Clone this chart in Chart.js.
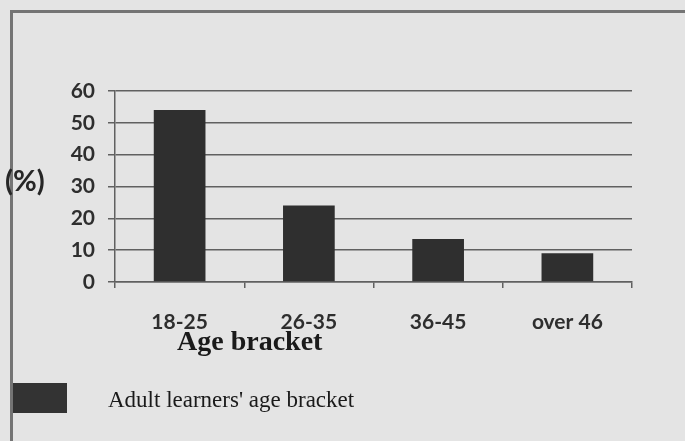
<!DOCTYPE html>
<html>
<head>
<meta charset="utf-8">
<script src="https://cdn.jsdelivr.net/npm/chart.js@4"></script>
<style>
  html, body { margin: 0; padding: 0; background: #e4e4e4; }
  body { width: 685px; height: 441px; position: relative; overflow: hidden; }
  #chart { position: absolute; left: 0; top: 0; }
  .frame { position: absolute; left: 10px; top: 10px; width: 680px; height: 440px;
           border-left: 3px solid #747474; border-top: 3px solid #747474; }
  .ylabel { position: absolute; left: 5px; top: 165px; font: bold 29px Lato, sans-serif;
            line-height: 1; color: #262626; }
  .xtitle { position: absolute; left: 177px; top: 327px; font: bold 28px "Liberation Serif", serif;
            line-height: 1; color: #1a1a1a; }
  .legend-box { position: absolute; left: 13px; top: 383px; width: 54px; height: 30px; background: #333; }
  .legend-text { position: absolute; left: 108px; top: 388px; font: 23px "Liberation Serif", serif;
                 line-height: 1; color: #1a1a1a; }
</style>
</head>
<body>
<canvas id="chart" width="685" height="441"></canvas>
<div class="frame"></div>
<div class="ylabel">(%)</div>
<div class="xtitle">Age bracket</div>
<div class="legend-box"></div>
<div class="legend-text">Adult learners' age bracket</div>
<script>
// Data
const ageBrackets = ['18-25', '26-35', '36-45', 'over 46'];
const learnerShare = [54, 24, 13.5, 9];
const seriesName = "Adult learners' age bracket";

const GRID = '#606060';
const INK = '#2e2e2e';

const ctx = document.getElementById('chart').getContext('2d');

new Chart(ctx, {
    type: 'bar',
    data: {
        labels: ageBrackets,
        datasets: [{
            label: seriesName,
            data: learnerShare,
            backgroundColor: '#2f2f2f',
            borderWidth: 0,
            barPercentage: 0.4,
            categoryPercentage: 1
        }]
    },
    options: {
        responsive: false,
        animation: false,
        layout: { padding: { top: 91, right: 53, left: 0, bottom: 0 } },
        plugins: {
            legend: { display: false },
            tooltip: { enabled: false }
        },
        scales: {
            x: {
                grid: { drawOnChartArea: false, tickLength: 6, color: GRID, lineWidth: 1.5 },
                border: { color: GRID, width: 1.5 },
                ticks: { color: INK, font: { family: 'Lato', size: 21, weight: 'bold' }, padding: 22 },
                afterFit: s => { s.height = 159; }
            },
            y: {
                min: 0,
                max: 60,
                ticks: { stepSize: 10, color: INK, font: { family: 'Lato', size: 21, weight: 'bold' }, padding: 13 },
                grid: { color: GRID, lineWidth: 1.5, tickLength: 7 },
                border: { color: GRID, width: 1.5 },
                afterFit: s => { s.width = 115; }
            }
        }
    }
});
</script>
</body>
</html>
